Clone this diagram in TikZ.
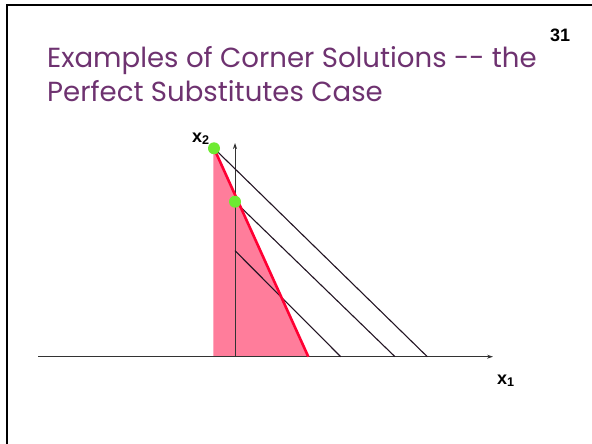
\documentclass[tikz,border=0pt]{standalone}
\usepackage{fontspec}
\setmainfont{Liberation Sans}
\newfontfamily\titlefont{Poppins}
\usetikzlibrary{arrows.meta}

\definecolor{titlepurple}{RGB}{110,50,112}
\definecolor{budgetred}{RGB}{255,0,51}
\definecolor{budgetfill}{RGB}{255,125,155}
\definecolor{dotgreen}{RGB}{110,235,50}
\definecolor{indiffline}{RGB}{35,20,35}

\begin{document}
\begin{tikzpicture}[x=1pt,y=-1pt]
  \tikzset{
    indiff/.style={indiffline, line width=1.1pt},
    axis/.style={black!80, line width=0.8pt, -{Stealth[length=6pt,width=4pt]}},
    optdot/.style={fill=dotgreen, draw=none},
    titletext/.style={anchor=base west, inner sep=0pt, text=titlepurple,
      font=\titlefont\fontsize{27.6}{27.6}\selectfont},
    axislabel/.style={anchor=base west, inner sep=0pt,
      font=\bfseries\fontsize{18}{18}\selectfont}
  }
  \useasboundingbox (0,0) rectangle (592,444);

  % slide frame
  \draw[line width=2.5pt] (7,444) -- (7,5) -- (592,5);

  % titles
  \node[titletext] (title1) at (47,67) {Examples of Corner Solutions -{}- the};
  \node[titletext] (title2) at (47,102) {Perfect Substitutes Case};
  \node[anchor=base west, inner sep=0pt, font=\bfseries\fontsize{18}{18}\selectfont]
    (slideno) at (550,42) {31};

  % characteristic coordinates of plot
  \coordinate (xstart) at (38,356.7);
  \coordinate (xend) at (493,356.7);
  \coordinate (o) at (235,356.7);
  \coordinate (ytop) at (235,143);
  \coordinate (corner) at (214,148.3);
  \coordinate (tangent) at (235,201.7);
  \coordinate (lowtop) at (235,250.7);
  \coordinate (fillfoot) at (213.3,356.7);
  \coordinate (redfoot) at (308.3,356.7);

  % budget set
  \fill[budgetfill] (213.3,148.3) -- (redfoot) -- (fillfoot) -- cycle;

  % axis
  \draw[axis] (xstart) -- (xend);
  \draw[axis] (o) -- (ytop);

  % indifference curves
  \draw[indiff] (corner) -- (427.3,356.7);
  \draw[indiff] (tangent) -- (395,356.7);
  \draw[indiff] (lowtop) -- (340.7,356.7);

  % budget line
  \draw[budgetred, line width=2.6pt] (corner) -- (redfoot);

  % optimum points
  \fill[optdot] (corner) circle (6);
  \fill[optdot] (tangent) circle (6);

  % axis labels
  \node[axislabel] (xtwo) at (192,142) {x\textsubscript{2}};
  \node[axislabel] (xone) at (497,384) {x\textsubscript{1}};
\end{tikzpicture}
\end{document}
